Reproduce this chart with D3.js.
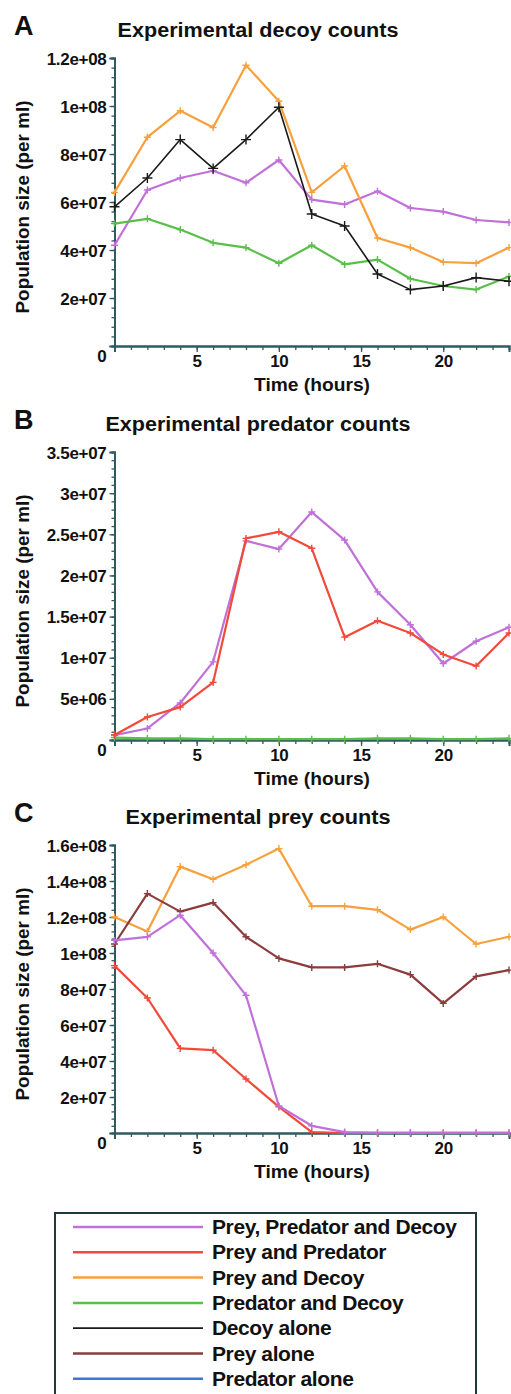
<!DOCTYPE html>
<html><head><meta charset="utf-8">
<script src="https://cdn.jsdelivr.net/npm/d3@7"></script>
<style>
html,body{margin:0;padding:0;background:#fff;}
svg{display:block;}
text{font-family:"Liberation Sans",Arial,sans-serif;font-weight:bold;fill:#111;}
</style></head>
<body>
<svg id="chart" width="511" height="1394"></svg>
<script>
// ---- data ----
const hours = [0,2,4,6,8,10,12,14,16,18,20,22,24];
const seriesNames = ["Prey, Predator and Decoy","Prey and Predator","Prey and Decoy","Predator and Decoy","Decoy alone","Prey alone","Predator alone"];
const seriesColors = ["#c070d8","#f04a3a","#f7a03c","#58c048","#1a1a1a","#8c3c3c","#3a78d8"];

// Panel A: decoy counts
const decoyPPD   = [4.2e7,6.5e7,7.0e7,7.3e7,6.8e7,7.75e7,6.1e7,5.9e7,6.45e7,5.75e7,5.6e7,5.25e7,5.15e7];
const decoyPD    = [6.4e7,8.7e7,9.8e7,9.1e7,1.17e8,1.02e8,6.4e7,7.5e7,4.5e7,4.1e7,3.5e7,3.45e7,4.1e7];
const decoyPredD = [5.1e7,5.3e7,4.85e7,4.3e7,4.1e7,3.45e7,4.2e7,3.4e7,3.6e7,2.8e7,2.5e7,2.35e7,2.9e7];
const decoyAlone = [5.8e7,7.0e7,8.6e7,7.4e7,8.6e7,9.95e7,5.5e7,5.0e7,3.0e7,2.35e7,2.5e7,2.85e7,2.7e7];

// Panel B: predator counts
const predPPD   = [6e5,1.4e6,4.5e6,9.5e6,2.42e7,2.32e7,2.77e7,2.43e7,1.8e7,1.4e7,9.3e6,1.2e7,1.37e7];
const predPP    = [6e5,2.8e6,4.0e6,7.0e6,2.45e7,2.53e7,2.33e7,1.25e7,1.45e7,1.3e7,1.04e7,9.0e6,1.3e7];
const predPredD = [3e5,2e5,2e5,1e5,1e5,1e5,1e5,1e5,2e5,2e5,1e5,1e5,2e5];

// Panel C: prey counts
const preyPPD   = [1.07e8,1.09e8,1.21e8,1.0e8,7.65e7,1.5e7,4e6,5e5,2e5,2e5,2e5,2e5,2e5];
const preyPP    = [9.3e7,7.5e7,4.7e7,4.6e7,3.0e7,1.45e7,5e5,0,0,0,0,0,0];
const preyPD    = [1.2e8,1.12e8,1.48e8,1.41e8,1.49e8,1.58e8,1.26e8,1.26e8,1.24e8,1.13e8,1.2e8,1.05e8,1.09e8];
const preyAlone = [1.05e8,1.33e8,1.23e8,1.28e8,1.09e8,9.7e7,9.2e7,9.2e7,9.4e7,8.8e7,7.2e7,8.7e7,9.05e7];

const yTicksA = [0,2e7,4e7,6e7,8e7,1e8,1.2e8];
const yLabelsA = ["0","2e+07","4e+07","6e+07","8e+07","1e+08","1.2e+08"];
const yTicksB = [0,5e6,1e7,1.5e7,2e7,2.5e7,3e7,3.5e7];
const yLabelsB = ["0","5e+06","1e+07","1.5e+07","2e+07","2.5e+07","3e+07","3.5e+07"];
const yTicksC = [0,2e7,4e7,6e7,8e7,1e8,1.2e8,1.4e8,1.6e8];
const yLabelsC = ["0","2e+07","4e+07","6e+07","8e+07","1e+08","1.2e+08","1.4e+08","1.6e+08"];
const xTicks = [5,10,15,20];

const panels = [
  {letter:"A", title:"Experimental decoy counts", top:58, bottom:346, max:1.2e8, minor:4e6,
   ticks:yTicksA, labels:yLabelsA, titleW:281,
   series:[[0,decoyPPD],[2,decoyPD],[3,decoyPredD],[4,decoyAlone]]},
  {letter:"B", title:"Experimental predator counts", top:452, bottom:740, max:3.5e7, minor:1e6,
   ticks:yTicksB, labels:yLabelsB, titleW:305,
   series:[[3,predPredD],[0,predPPD],[1,predPP]]},
  {letter:"C", title:"Experimental prey counts", top:845, bottom:1133, max:1.6e8, minor:4e6,
   ticks:yTicksC, labels:yLabelsC, titleW:265,
   series:[[2,preyPD],[5,preyAlone],[1,preyPP],[0,preyPPD]]}
];

const svg = d3.select("#chart");
const axisColor = "#2e5a60";
const x = d3.scaleLinear().domain([0,24]).range([114.5,509]);

panels.forEach(p => {
  const g = svg.append("g");
  const y = d3.scaleLinear().domain([0,p.max]).range([p.bottom,p.top]);

  // panel letter & title
  g.append("text").attr("x",14).attr("y",p.top-23).attr("font-size",27).text(p.letter);
  g.append("text").attr("x",258).attr("y",p.top-21).attr("text-anchor","middle")
    .attr("font-size",20).attr("textLength",p.titleW).attr("lengthAdjust","spacingAndGlyphs").text(p.title);

  // y axis
  const yAxisMinor = d3.axisLeft(y).tickValues(d3.range(0,p.max+1,p.minor)).tickSize(3).tickFormat("");
  const ga1 = g.append("g").attr("transform",`translate(${x(0)},0)`).call(yAxisMinor);
  const yAxis = d3.axisLeft(y).tickValues(p.ticks).tickSize(5).tickFormat((d,i)=>p.labels[i]).tickPadding(3);
  const ga2 = g.append("g").attr("transform",`translate(${x(0)},0)`).call(yAxis);
  ga2.selectAll("text").attr("font-size",17).attr("font-family","Liberation Sans, Arial, sans-serif")
     .attr("font-weight","bold").style("letter-spacing","-0.3px")
     .attr("dy",(d)=> d===0 ? "0.9em" : "0.36em");
  // x axis
  const xAxisMinor = d3.axisBottom(x).tickValues(d3.range(0,25,1)).tickSize(4).tickFormat("");
  const gx1 = g.append("g").attr("transform",`translate(0,${p.bottom})`).call(xAxisMinor);
  const xAxis = d3.axisBottom(x).tickValues(xTicks).tickSize(6).tickPadding(3);
  const gx2 = g.append("g").attr("transform",`translate(0,${p.bottom})`).call(xAxis);
  gx2.selectAll("text").attr("font-size",17).attr("font-family","Liberation Sans, Arial, sans-serif")
     .attr("font-weight","bold").style("letter-spacing","-0.3px");
  [ga1,ga2,gx1,gx2].forEach(a=>{
    a.selectAll("path.domain").attr("stroke",axisColor).attr("stroke-width",2);
    a.selectAll("line").attr("stroke",axisColor).attr("stroke-width",1.3);
    a.selectAll("text").attr("fill","#111");
  });

  // axis labels
  g.append("text").attr("x",312).attr("y",p.bottom+45).attr("text-anchor","middle")
    .attr("font-size",19).attr("textLength",116).attr("lengthAdjust","spacingAndGlyphs").text("Time (hours)");
  const cy = (p.top+p.bottom)/2 + 5;
  g.append("text").attr("transform",`translate(29,${cy}) rotate(-90)`).attr("text-anchor","middle")
    .attr("font-size",18).attr("textLength",213).attr("lengthAdjust","spacingAndGlyphs").text("Population size (per ml)");

  // series
  const line = d3.line().x((d,i)=>x(hours[i])).y(d=>y(d));
  p.series.forEach(([ci,vals])=>{
    const col = seriesColors[ci];
    const black = ci===4;
    g.append("path").datum(vals).attr("d",line).attr("fill","none")
      .attr("stroke",col).attr("stroke-width",black?1.6:2.2).attr("stroke-linejoin","round");
    const s = black?5:3.5;
    g.selectAll(null).data(vals).enter().append("path")
      .attr("d",(d,i)=>{const cx=x(hours[i]), cy=y(d); return `M${cx-s},${cy}H${cx+s}M${cx},${cy-s}V${cy+s}`;})
      .attr("stroke",col).attr("stroke-width",1.4);
  });
});

// legend
const lg = svg.append("g");
lg.append("rect").attr("x",55).attr("y",1213).attr("width",421).attr("height",200)
  .attr("fill","none").attr("stroke","#1e3a3a").attr("stroke-width",2);
seriesNames.forEach((n,i)=>{
  const ry = 1227 + i*25.3;
  lg.append("line").attr("x1",73).attr("x2",203).attr("y1",ry).attr("y2",ry)
    .attr("stroke",seriesColors[i]).attr("stroke-width",i===4?1.8:2.5);
  lg.append("text").attr("x",212).attr("y",ry+7).attr("font-size",21)
    .style("letter-spacing","-0.4px").text(n);
});
</script>
</body></html>
